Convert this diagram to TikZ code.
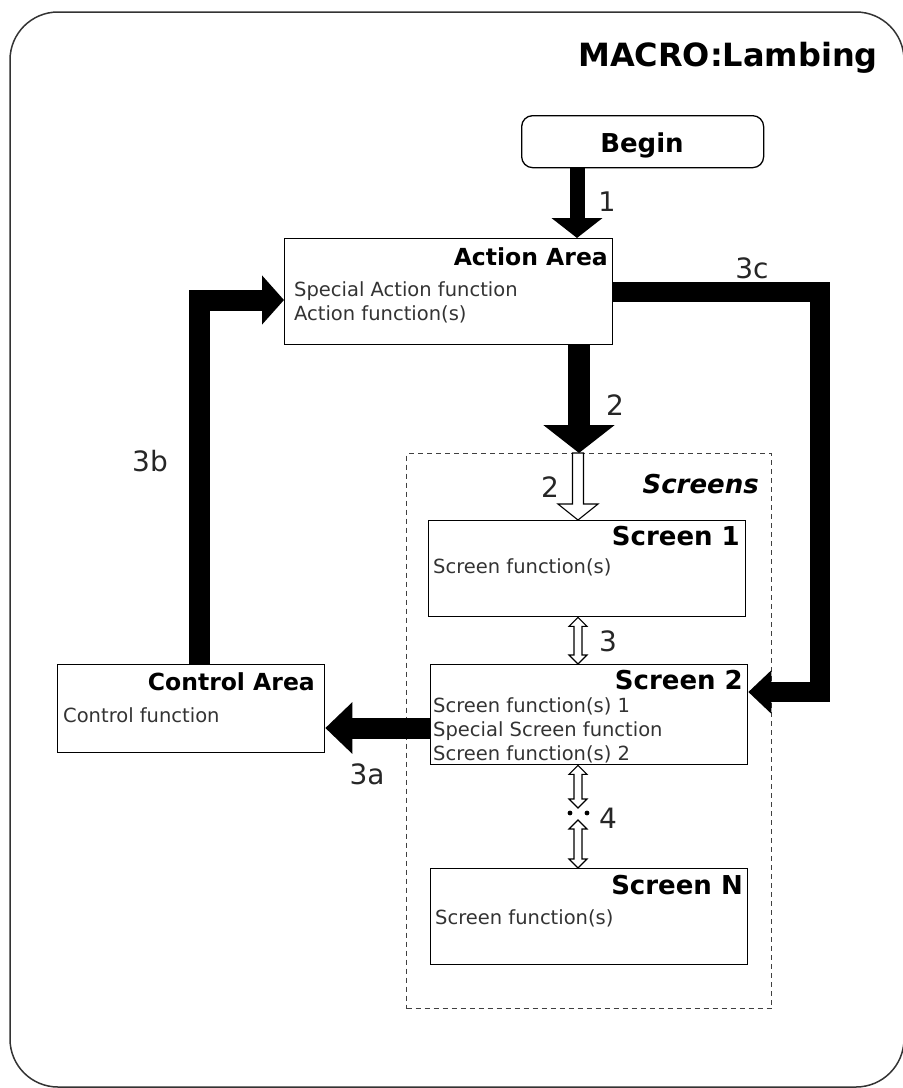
\documentclass[tikz,border=0pt]{standalone}
\usepackage{fontspec}
\setmainfont{DejaVu Sans}
\usetikzlibrary{arrows.meta,calc}
\newcommand\wsingle[2]{\filldraw[fill=white,draw=black,line width=1.1pt,line join=miter]
  let \p1=(#1), \p2=(#2) in (\x1-5.5,\y1) -- (\x1+5.5,\y1) -- (\x1+5.5,\y2+16) -- (\x1+20,\y2+16)
  -- (\x2,\y2) -- (\x1-20,\y2+16) -- (\x1-5.5,\y2+16) -- cycle;}
\newcommand\wdouble[2]{\filldraw[fill=white,draw=black,line width=1.1pt,line join=miter]
  let \p1=(#1), \p2=(#2) in (\x1,\y1) -- (\x1+9,\y1-9) -- (\x1+4,\y1-9) -- (\x1+4,\y2+9) -- (\x1+9,\y2+9)
  -- (\x2,\y2) -- (\x1-9,\y2+9) -- (\x1-4,\y2+9) -- (\x1-4,\y1-9) -- (\x1-9,\y1-9) -- cycle;}
\begin{document}
\begin{tikzpicture}[x=1pt,y=-1pt,
  box/.style={draw, line width=1.3pt, inner sep=0pt, anchor=north west},
  ttl/.style={font=\bfseries\fontsize{23.5}{28}\selectfont, inner sep=0pt, anchor=mid east},
  sttl/.style={font=\bfseries\fontsize{26}{30}\selectfont, inner sep=0pt, anchor=mid east},
  txt/.style={font=\fontsize{19.5}{24}\selectfont, text=black!80, inner sep=0pt, anchor=mid west},
  lbl/.style={font=\fontsize{28}{32}\selectfont, text=black!85, inner sep=0pt},
  bline/.style={draw=black, line width=#1, line join=miter}]
\useasboundingbox (0,0) rectangle (903,1088);
\draw[line width=1.5pt, draw=black!80, rounded corners=48pt] (10,12) rectangle (904,1087);
\node[font=\bfseries\fontsize{32}{36}\selectfont, inner sep=0pt, anchor=mid east] (title) at (878,64) {MACRO:Lambing};

% boxes
\node[box, rounded corners=11pt, minimum width=242pt, minimum height=52pt] (begin) at (521,115) {};
\node[font=\bfseries\fontsize{26}{30}\selectfont, inner sep=0pt] (begint) at (642,145) {Begin};
\node[box, minimum width=328pt, minimum height=106pt] (action) at (284,238) {};
\node[box, minimum width=267pt, minimum height=88pt] (ctrl) at (57,664) {};
\node[box, draw=black!75, dash pattern=on 5pt off 4pt, line width=1.3pt, minimum width=365pt, minimum height=555pt] (scr) at (406,453) {};
\node[box, minimum width=317pt, minimum height=96pt] (s1) at (428,520) {};
\node[box, minimum width=317pt, minimum height=100pt] (s2) at (430,664) {};
\node[box, minimum width=317pt, minimum height=96pt] (sn) at (430,868) {};

% texts
\node[ttl] (actt) at (608,263) {Action Area};
\node[txt] (act1) at (294,294) {Special Action function};
\node[txt] (act2) at (294,318) {Action function(s)};
\node[ttl] (ctrlt) at (315,688) {Control Area};
\node[txt] (ctrl1) at (63,720) {Control function};
\node[font=\bfseries\itshape\fontsize{26}{30}\selectfont, inner sep=0pt, anchor=mid east] (scrt) at (759,491) {Screens};
\node[sttl] (s1t) at (740,543) {Screen 1};
\node[txt] (s1a) at (433,571) {Screen function(s)};
\node[sttl] (s2t) at (743,687) {Screen 2};
\node[txt] (s2a) at (433,710) {Screen function(s) 1};
\node[txt] (s2b) at (433,734) {Special Screen function};
\node[txt] (s2c) at (433,758) {Screen function(s) 2};
\node[sttl] (snt) at (743,892) {Screen N};
\node[txt] (sna) at (435,922) {Screen function(s)};

% helper coordinates
\coordinate (c1) at (577,0);
\coordinate (c2) at (579,0);
\coordinate (cw) at (578,0);
\coordinate (c3a) at (0,728);
\coordinate (c3b) at (199,300);
\coordinate (c3c) at (820,292);
\coordinate (c3d) at (820,692);
\coordinate (d1) at (578,808);
\coordinate (d2) at (578,820);

% black arrows
\draw[bline=15pt, -{Triangle[length=20pt, width=50pt]}] (begin.south -| c1) -- (action.north -| c1);
\draw[bline=22pt, -{Triangle[length=28pt, width=70pt]}] (action.south -| c2) -- (scr.north -| c2);
\draw[bline=21pt, -{Triangle[length=27pt, width=50pt]}] (s2.west |- c3a) -- (ctrl.east |- c3a);
\draw[bline=21pt, -{Triangle[length=22pt, width=48pt]}] (ctrl.north -| c3b) |- (action.west |- c3b);
\draw[bline=20pt, -{Triangle[length=23pt, width=42pt]}] (action.east |- c3c) -- (c3c) -- (c3d) -- (s2.east |- c3d);

% white arrows
\wsingle{scr.north -| cw}{s1.north -| cw}
\wdouble{s1.south -| cw}{s2.north -| cw}
\wdouble{s2.south -| cw}{d1}
\wdouble{d2}{sn.north -| cw}
\fill (570,813) circle (2.4pt);
\fill (587,813) circle (2.4pt);

% labels
\node[lbl, font=\fontsize{27}{30}\selectfont] (l1) at (607,202) {1};
\node[lbl] (l3c) at (752,268) {3c};
\node[lbl] (l2a) at (615,405) {2};
\node[lbl] (l3b) at (150,461) {3b};
\node[lbl] (l2b) at (550,487) {2};
\node[lbl] (l3) at (608,641) {3};
\node[lbl] (l3a) at (367,774) {3a};
\node[lbl] (l4) at (608,818) {4};
\end{tikzpicture}
\end{document}
